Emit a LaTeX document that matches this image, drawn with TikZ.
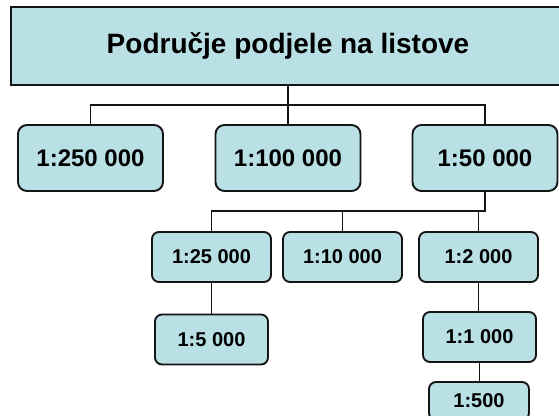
\documentclass[tikz,border=0pt]{standalone}
\usepackage{fontspec}
\setmainfont{Liberation Sans}
\definecolor{boxfill}{HTML}{B9E0E4}
\definecolor{edge}{HTML}{151515}
\tikzset{
  base/.style={draw=edge, fill=boxfill, line width=1.9pt, inner sep=0pt, align=center, text=black, font=\bfseries},
  topbox/.style={base, minimum width=554pt, minimum height=78pt, font=\fontsize{28}{32}\selectfont\bfseries},
  lvlone/.style={base, rounded corners=9pt, minimum width=145pt, minimum height=66pt, font=\fontsize{24}{28}\selectfont\bfseries},
  lvltwo/.style={base, rounded corners=7pt, minimum width=119pt, minimum height=50pt, font=\fontsize{20}{24}\selectfont\bfseries},
  lvlthree/.style={base, rounded corners=7pt, minimum width=113pt, minimum height=50pt, font=\fontsize{20}{24}\selectfont\bfseries},
  conn/.style={draw=edge, line width=1.9pt}
}
\begin{document}
\begin{tikzpicture}[x=1pt,y=-1pt]
\useasboundingbox (0,0) rectangle (559,415);
\clip (0,0) rectangle (559,415);
\fill[white] (0,0) rectangle (559,415);
\coordinate (busone) at (288,105);
\coordinate (bustwo) at (485,211);
\node[topbox] (top) at (288,46) {Područje podjele na listove};
\node[lvlone] (b250) at (90.5,158) {1:250 000};
\node[lvlone] (b100) at (288,158) {1:100 000};
\node[lvlone] (b50) at (485,158) {1:50 000};
\node[lvltwo] (b25) at (211.5,257) {1:25 000};
\node[lvltwo] (b10) at (342.5,257) {1:10 000};
\node[lvltwo] (b2) at (478.5,257) {1:2 000};
\node[lvlthree] (b5) at (211.5,339.5) {1:5 000};
\node[lvlthree] (b1) at (479.5,337) {1:1 000};
\node[lvlthree, minimum width=100pt, minimum height=38pt] (b05) at (479,401) {1:500};
\draw[conn] (top.south) -- (b100.north);
\draw[conn] (b250.north) |- (busone) -| (b50.north);
\draw[conn] (b50.south) -- (bustwo) -- (b25.north |- bustwo) -- (b25.north);
\draw[conn] (b10.north) -- (b10.north |- bustwo);
\draw[conn] (b2.north) -- (b2.north |- bustwo);
\draw[conn] (b25.south) -- (b5.north);
\draw[conn] (b2.south) -- (b1.north -| b2.south);
\draw[conn] (b1.south) -- (b05.north -| b1.south);
\end{tikzpicture}
\end{document}
